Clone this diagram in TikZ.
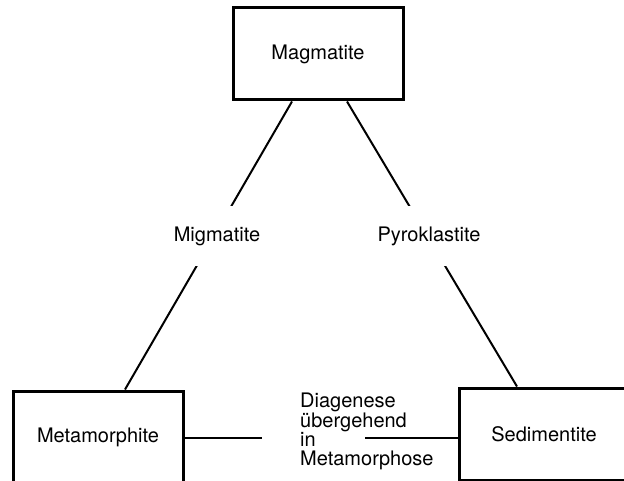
\documentclass[tikz,border=0pt]{standalone}
\usepackage{fontspec}
\setmainfont{TeX Gyre Heros}
\usetikzlibrary{calc}
\begin{document}
\begin{tikzpicture}[x=1pt,y=-1pt,
  rockbox/.style={draw,line width=3pt,minimum width=170pt,minimum height=92pt,inner sep=0pt,
    font=\fontsize{20}{18.7}\selectfont},
  conn/.style={line width=2pt},
  lbl/.style={fill=white,inner sep=0pt,minimum height=60pt,font=\fontsize{20}{18.7}\selectfont},
  blk/.style={inner sep=0pt,align=left,font=\fontsize{20}{18.7}\selectfont}]
\useasboundingbox (0,0) rectangle (624,481);
\node[rockbox] (mag) at (318,54) {Magmatite};
\node[rockbox] (met) at (98,437) {Metamorphite};
\node[rockbox] (sed) at (544,434) {Sedimentite};
% diagonal connectors
\coordinate (m1) at ($(mag.south)+(-26,0)$);
\coordinate (m2) at ($(mag.south)+(29,0)$);
\coordinate (t1) at ($(met.north)+(27,0)$);
\coordinate (s1) at ($(sed.north)+(-27,0)$);
\draw[conn] (m1) -- (t1);
\draw[conn] (m2) -- (s1);
\node[lbl] (mig) at (217,236) {Migmatite};
\node[lbl] (pyr) at (429,236) {Pyroklastite};
% horizontal connectors
\coordinate (hl) at (262,438);
\coordinate (hr) at (365,438);
\draw[conn] (met.east |- hl) -- (hl);
\draw[conn] (hr) -- (sed.west |- hr);
\node[blk,anchor=north west] (dia) at (300,393.2) {Diagenese\\übergehend\\in\\Metamorphose};
\end{tikzpicture}
\end{document}
